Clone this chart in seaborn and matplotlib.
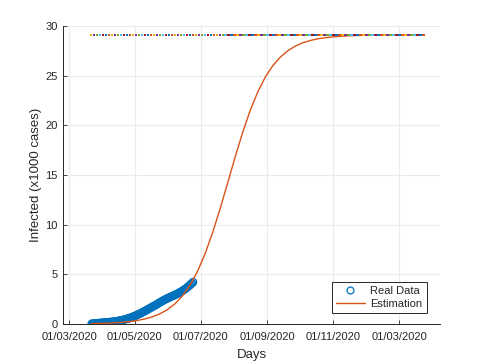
import numpy as np
import pandas as pd
import matplotlib
matplotlib.use("Agg")
import matplotlib.pyplot as plt
import seaborn as sns
from matplotlib.lines import Line2D

# ---- data (days counted from 01/03/2020) ----
real_days = list(range(21, 116))
real_values = [0.03, 0.04, 0.05, 0.06, 0.07, 0.08, 0.09, 0.10, 0.11, 0.12,
               0.13, 0.14, 0.15, 0.16, 0.17, 0.18, 0.19, 0.20, 0.21, 0.22,
               0.23, 0.25, 0.26, 0.28, 0.30, 0.32, 0.34, 0.36, 0.38, 0.41,
               0.44, 0.47, 0.50, 0.53, 0.56, 0.60, 0.64, 0.68, 0.72, 0.76,
               0.81, 0.86, 0.91, 0.96, 1.01, 1.06, 1.11, 1.17, 1.23, 1.29,
               1.35, 1.41, 1.47, 1.53, 1.59, 1.65, 1.71, 1.77, 1.83, 1.89,
               1.95, 2.02, 2.09, 2.16, 2.22, 2.28, 2.34, 2.40, 2.46, 2.52,
               2.57, 2.62, 2.67, 2.72, 2.77, 2.82, 2.87, 2.92, 2.97, 3.02,
               3.08, 3.14, 3.20, 3.26, 3.33, 3.40, 3.47, 3.55, 3.63, 3.72,
               3.81, 3.91, 4.01, 4.11, 4.22]

est_days = list(range(21, 330, 7))
est_values = [0.04, 0.06, 0.08, 0.12, 0.17, 0.24, 0.35, 0.50, 0.71, 1.01,
              1.43, 2.01, 2.81, 3.88, 5.27, 7.03, 9.15, 11.57, 14.17, 16.80,
              19.29, 21.50, 23.36, 24.86, 26.01, 26.88, 27.52, 27.99, 28.32, 28.55,
              28.72, 28.83, 28.91, 28.97, 29.01, 29.04, 29.06, 29.07, 29.08, 29.08,
              29.09, 29.09, 29.09, 29.10, 29.10]

plateau_level = 29.1
plateau_start, plateau_end, plateau_count = 20.5, 328.5, 112

tick_days = [0, 61, 122, 184, 245, 306]
tick_labels = ["01/03/2020", "01/05/2020", "01/07/2020", "01/09/2020",
               "01/11/2020", "01/03/2020"]
y_ticks = [0, 5, 10, 15, 20, 25, 30]

# ---- style ----
sns.set_theme(style="whitegrid")
plt.rcParams['font.family'] = ['Liberation Sans', 'DejaVu Sans']
txt = "#262626"

blue = "#0072BD"
orange = "#D95319"
cycle = ["#EDB120", "#7E2F8E", "#77AC30", "#4DBEEE", "#A2142F", "#0072BD", "#D95319"]

fig = plt.figure(figsize=(4.86, 3.64), dpi=100)
ax = fig.add_axes([63/486, 1 - 324/364, (440-63)/486, (324-26)/364])
ax.set_facecolor("white")

real_df = pd.DataFrame({"day": real_days, "val": real_values})
sns.scatterplot(data=real_df, x="day", y="val", ax=ax, marker="o", s=26,
                facecolors="none", edgecolor=blue, linewidth=1.0, zorder=4)

est_df = pd.DataFrame({"day": est_days, "val": est_values})
sns.lineplot(data=est_df, x="day", y="val", ax=ax, color=orange, linewidth=1.0,
             zorder=5)

plateau_days = np.linspace(plateau_start, plateau_end, plateau_count)
plat_df = pd.DataFrame({"day": plateau_days,
                        "val": [plateau_level] * plateau_count,
                        "grp": [i % 7 for i in range(plateau_count)]})
sns.scatterplot(data=plat_df, x="day", y="val", hue="grp", palette=cycle,
                marker="s", s=3.5, linewidth=0, legend=False, ax=ax, zorder=6)

ax.set_xlim(-5.6, 344)
ax.set_ylim(0, 30)
ax.set_xticks(tick_days)
ax.set_xticklabels(tick_labels)
ax.set_yticks(y_ticks)
ax.set_yticklabels([str(v) for v in y_ticks])
ax.tick_params(axis="both", direction="in", length=3, width=0.6, colors=txt,
               labelsize=8)
ax.tick_params(axis="x", bottom=True, pad=6)
ax.tick_params(axis="y", left=True, pad=4)
ax.grid(True, color="#EBEBEB", linewidth=0.8)
for side in ["top", "right"]:
    ax.spines[side].set_visible(False)
for side in ["left", "bottom"]:
    ax.spines[side].set_visible(True)
    ax.spines[side].set_color(txt)
    ax.spines[side].set_linewidth(0.7)

ax.set_xlabel("Days", fontsize=9.5, color=txt, labelpad=5)
ax.set_ylabel("Infected (x1000 cases)", fontsize=9.5, color=txt, labelpad=2)

handles = [Line2D([], [], marker="o", linestyle="none", markerfacecolor="none",
                  markeredgecolor=blue, markersize=5, markeredgewidth=0.9),
           Line2D([], [], color=orange, linewidth=1.0)]
leg = ax.legend(handles, ["Real Data", "Estimation"], loc="lower right",
                bbox_to_anchor=(427/377 - 63/377, 11/298), fontsize=8,
                frameon=True, fancybox=False, edgecolor=txt, framealpha=1,
                borderpad=0.4, handlelength=2.6, labelspacing=0.2,
                handletextpad=0.5, borderaxespad=0)
leg.get_frame().set_linewidth(0.7)
for t in leg.get_texts():
    t.set_color(txt)

fig.savefig("out.png", dpi=100)
